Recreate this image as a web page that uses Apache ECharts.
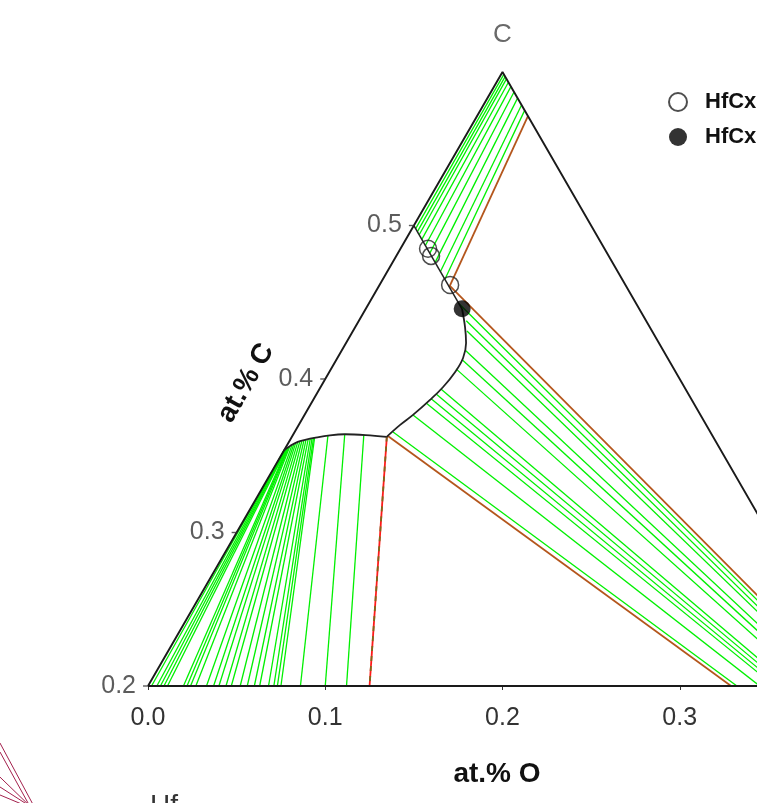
<!DOCTYPE html>
<html>
<head>
<meta charset="utf-8">
<script src="https://cdn.jsdelivr.net/npm/echarts@6.0.0/dist/echarts.min.js"></script>
<style>
  html, body { margin: 0; padding: 0; background: #fff; overflow: hidden; }
  #chart { width: 757px; height: 803px; }
</style>
</head>
<body>
<div id="chart"></div>
<script>
// all points are [x(O), x(C)] mole fractions
const frameCorners = [[0, 0.2], [0, 0.6], [0.4, 0.2], [0, 0.2]];
const cTicks = [0.2, 0.3, 0.4, 0.5];
const cTickLabels = ['0.2', '0.3', '0.4', '0.5'];
const oTickLabels = ['0.0', '0.1', '0.2', '0.3', '0.4'];
const vertexName = 'C';
const cVertex = [0, 0.6];
const bottomC = 0.2;
const hfo2 = [0.6667, 0];

// HfC line (x(Hf) = 0.5) and phase boundaries
const hfcLine = [[0, 0.5], [0.0544, 0.4456]];
const hfcBoundary = [[0.0544, 0.4456], [0.0619, 0.4339], [0.0677, 0.4235], [0.0709, 0.4137],
  [0.0710, 0.4046], [0.0691, 0.3948], [0.0659, 0.3864], [0.0612, 0.3766], [0.0572, 0.3701], [0.0535, 0.3623]];
const hfcArc = [[0.0535, 0.3623], [0.041, 0.3635], [0.029, 0.364], [0.021, 0.3633], [0.013, 0.3616],
  [0.0085, 0.3603], [0.005, 0.359], [0.002, 0.3564], [0, 0.3538]];

// HfC + C tie lines (top)
const tieCStart = [[0.002, 0.498], [0.004, 0.496], [0.006, 0.494], [0.009, 0.491], [0.013, 0.487],
  [0.018, 0.482], [0.024, 0.476], [0.030, 0.470], [0.035, 0.465]];
const tieCEnd = [[0.0015, 0.5985], [0.003, 0.597], [0.0045, 0.5955], [0.0067, 0.5933], [0.0095, 0.5905],
  [0.013, 0.587], [0.017, 0.583], [0.0215, 0.5785], [0.025, 0.575]];

// HfC + HfO2 tie lines (start on HfC side, run towards HfO2)
const tieOxStart = [[0.051, 0.449], [0.0606, 0.4379], [0.0643, 0.4313], [0.0694, 0.4189], [0.0710, 0.4125],
  [0.0705, 0.4066], [0.0685, 0.3935], [0.0674, 0.3903], [0.0662, 0.3871], [0.0647, 0.3844],
  [0.0612, 0.3766], [0.0555, 0.3655]];

// HfC + Hf tie lines (fan)
const fanTop = [[0, 0.354], [0, 0.354], [0.0003, 0.3543], [0.0005, 0.3545], [0.0008, 0.3548],
  [0.001, 0.355], [0.0013, 0.3553], [0.0016, 0.3556], [0.002, 0.356], [0.0028, 0.3568],
  [0.0035, 0.3575], [0.0042, 0.3582], [0.005, 0.359], [0.006, 0.3593], [0.007, 0.3596],
  [0.008, 0.3599], [0.009, 0.3602], [0.010, 0.3607], [0.011, 0.3611], [0.0118, 0.3615],
  [0.0125, 0.3618], [0.013, 0.362], [0.020, 0.363], [0.029, 0.364], [0.040, 0.3635]];
const fanBottomO = [0.002, 0.005, 0.007, 0.009, 0.011, 0.020, 0.022, 0.024, 0.027, 0.033,
  0.037, 0.040, 0.044, 0.047, 0.052, 0.056, 0.060, 0.063, 0.068, 0.071,
  0.073, 0.075, 0.086, 0.100, 0.112];

// three-phase triangle edges
const edgeHfcC = [[0.040, 0.460], [0.0287, 0.5713]];
const edgeHfcOxUpper = [0.040, 0.4606];
const edgeHfcOxLower = [0.0539, 0.3629];
const edgeHfcHf = [[0.0535, 0.3625], [0.125, 0.2]];

// HfCx points
const hfcxOpen = [[0.0156, 0.4848], [0.0196, 0.4802], [0.0398, 0.4613]];
const hfcxFilled = [[0.0544, 0.4457]];

// fragment of the neighbouring diagram, bottom left
const neighbourLines = [
  [[-0.0650, 0.1629], [-0.0228, 0.1192]],
  [[-0.0620, 0.1570], [-0.0251, 0.1192]],
  [[-0.0539, 0.1407], [-0.0239, 0.1192]],
  [[-0.0506, 0.1342], [-0.0228, 0.1192]],
  [[-0.0480, 0.1290], [-0.0228, 0.1192]]
];

const H = Math.sqrt(3) / 2;
const toXY = (p) => [p[0] + p[1] / 2, p[1] * H];
const seg = (a, b) => ({ coords: [toXY(a), toXY(b)] });

const FONT = 'Liberation Sans, Arial, sans-serif';
const GREEN = '#00f000';
const BROWN = '#b4561c';

const chart = echarts.init(document.getElementById('chart'));

const option = {
  animation: false,
  backgroundColor: '#fff',
  grid: { left: 148, top: 72, width: 709, height: 614, containLabel: false, outerBoundsMode: 'none' },
  xAxis: {
    type: 'value', min: 0.1, max: 0.5, interval: 0.1,
    axisLine: { show: false },
    axisTick: { show: true, length: 4, lineStyle: { color: '#333', width: 1 } },
    splitLine: { show: false },
    axisLabel: {
      margin: 20, fontSize: 25, color: '#333', fontFamily: FONT,
      formatter: (v, i) => oTickLabels[i]
    }
  },
  yAxis: { type: 'value', min: bottomC * H, max: cVertex[1] * H, show: false },
  legend: {
    data: ['HfCx (exp.)', 'HfCx (calc.)'],
    orient: 'vertical', left: 663, top: 86,
    itemWidth: 44, itemHeight: 18, itemGap: 13,
    textStyle: { fontSize: 22, fontWeight: 'bold', color: '#111', fontFamily: FONT }
  },
  graphic: [
    { type: 'text', x: 497, y: 774, style: { text: 'at.% O', font: 'bold 28px ' + FONT, fill: '#111', textAlign: 'center', textVerticalAlign: 'middle' } },
    { type: 'text', x: 246, y: 383, rotation: Math.PI / 3, style: { text: 'at.% C', font: 'bold 28px ' + FONT, fill: '#111', textAlign: 'center', textVerticalAlign: 'middle' } },
    { type: 'text', x: 150, y: 792, style: { text: 'Hf', font: '28px ' + FONT, fill: '#333', textVerticalAlign: 'top' } }
  ],
  series: [
    {
      type: 'lines', coordinateSystem: 'cartesian2d', clip: false, z: 1,
      lineStyle: { color: '#a3204c', width: 1, opacity: 1 },
      data: neighbourLines.map(l => seg(l[0], l[1]))
    },
    {
      type: 'lines', coordinateSystem: 'cartesian2d', clip: true, z: 2,
      lineStyle: { color: GREEN, width: 1.3, opacity: 1 },
      data: [
        ...fanTop.map((t, i) => seg(t, [fanBottomO[i], bottomC])),
        ...tieCStart.map((s, i) => seg(s, tieCEnd[i])),
        ...tieOxStart.map(s => seg(s, hfo2))
      ]
    },
    {
      type: 'lines', coordinateSystem: 'cartesian2d', clip: true, z: 3,
      lineStyle: { color: BROWN, width: 1.8, opacity: 1 },
      data: [seg(edgeHfcC[0], edgeHfcC[1]), seg(edgeHfcOxUpper, hfo2), seg(edgeHfcOxLower, hfo2)]
    },
    {
      type: 'lines', coordinateSystem: 'cartesian2d', clip: true, z: 3,
      lineStyle: { color: '#ff1a1a', width: 1.8, opacity: 1 },
      data: [seg(edgeHfcHf[0], edgeHfcHf[1])]
    },
    {
      type: 'lines', coordinateSystem: 'cartesian2d', clip: true, z: 4,
      lineStyle: { color: '#7d6a1c', width: 1.8, opacity: 1, type: [5, 5] },
      data: [seg(edgeHfcHf[0], edgeHfcHf[1])]
    },
    {
      type: 'line', data: frameCorners.map(toXY), showSymbol: false, symbol: 'none', z: 5,
      lineStyle: { color: '#1a1a1a', width: 1.9 }
    },
    {
      type: 'line', data: hfcLine.map(toXY), showSymbol: false, symbol: 'none', z: 5,
      lineStyle: { color: '#222', width: 1.5 }
    },
    {
      type: 'line', data: hfcBoundary.map(toXY), showSymbol: false, symbol: 'none', smooth: 0.4, z: 5,
      lineStyle: { color: '#222', width: 1.8 }
    },
    {
      type: 'line', data: hfcArc.map(toXY), showSymbol: false, symbol: 'none', smooth: 0.4, z: 5,
      lineStyle: { color: '#222', width: 1.8 }
    },
    {
      name: 'HfCx (exp.)', type: 'scatter', data: hfcxOpen.map(toXY), symbol: 'circle', symbolSize: 17, z: 10,
      itemStyle: { color: 'rgba(255,255,255,0)', borderColor: '#222', borderWidth: 1.5 }
    },
    {
      name: 'HfCx (calc.)', type: 'scatter', data: hfcxFilled.map(toXY), symbol: 'circle', symbolSize: 17, z: 10,
      itemStyle: { color: '#000' }
    },
    {
      type: 'scatter', data: cTicks.map(c => toXY([0, c])), symbol: 'rect', symbolSize: [5, 1.4],
      symbolOffset: [-2.5, 0], z: 6, silent: true,
      itemStyle: { color: '#333' },
      label: {
        show: true, position: 'left', distance: 7, fontSize: 25, color: '#333', fontFamily: FONT,
        formatter: p => cTickLabels[p.dataIndex]
      }
    },
    {
      type: 'scatter', data: [toXY(cVertex)], symbolSize: 0, z: 6, silent: true,
      label: { show: true, position: 'top', distance: 24, fontSize: 26, color: '#444', fontFamily: FONT, formatter: vertexName }
    }
  ]
};

chart.setOption(option);
</script>
</body>
</html>
